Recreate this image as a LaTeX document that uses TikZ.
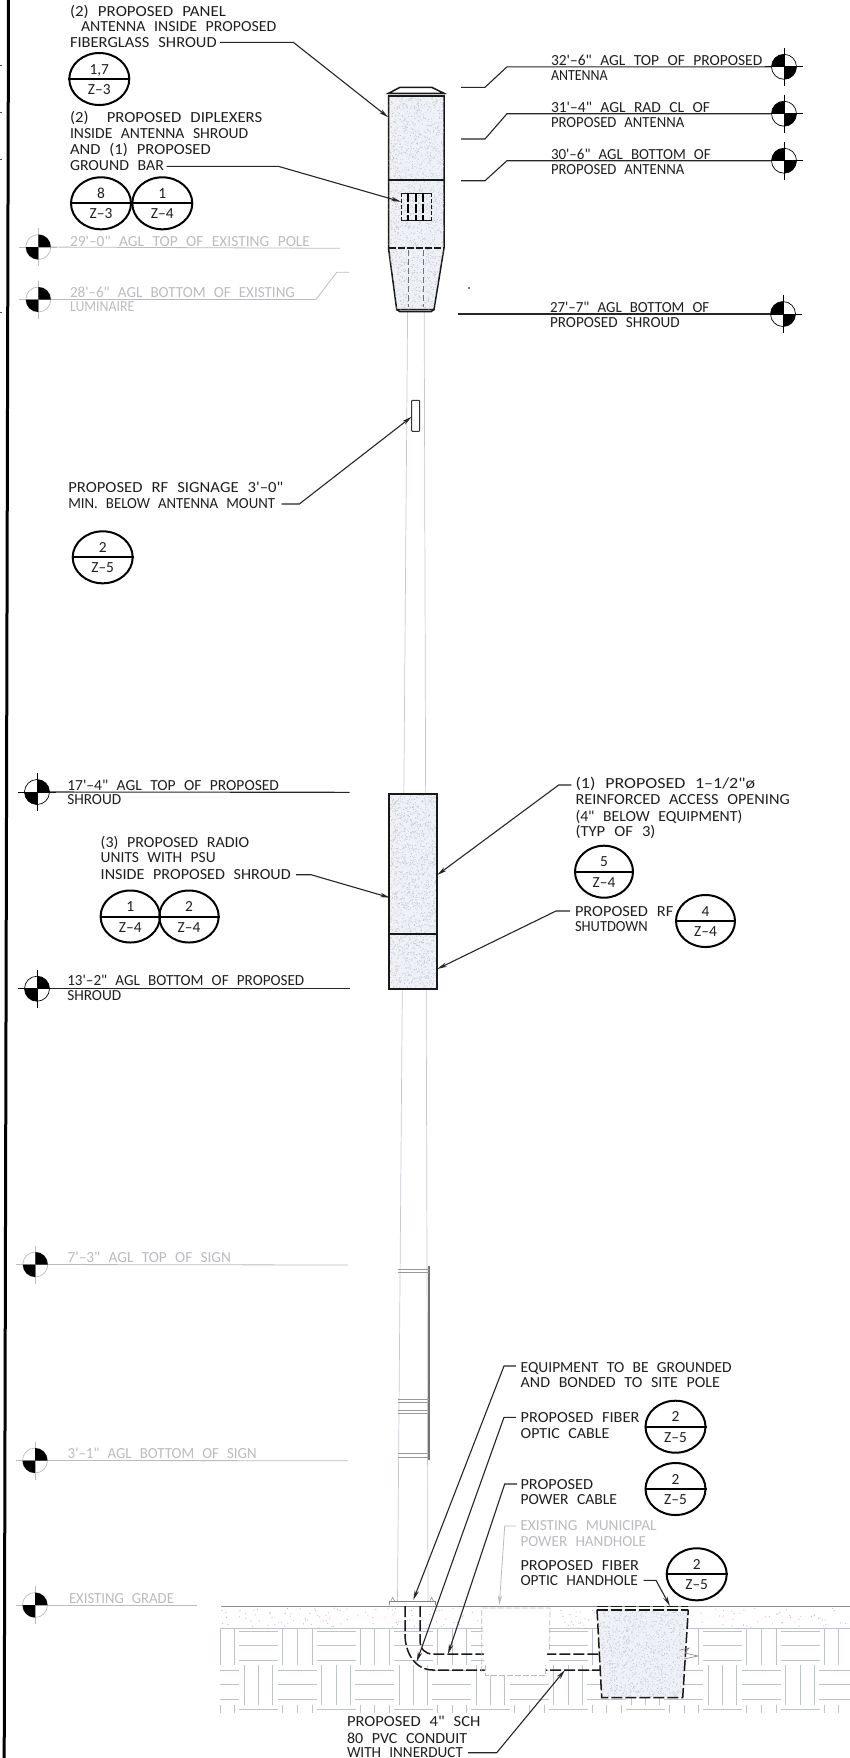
\documentclass[tikz,border=0pt]{standalone}
\usepackage{fontspec}
\usepackage{graphicx}
\setmainfont[WordSpace=2.4,Ligatures=TeXOff]{Carlito}
\usetikzlibrary{arrows.meta,shapes.geometric}
\definecolor{exist}{HTML}{BABCC0}
\definecolor{poleln}{HTML}{C4C9D2}
\definecolor{brick}{HTML}{BFC3CC}
\definecolor{shroud}{HTML}{EEF1F5}
\definecolor{stip}{HTML}{C2C6D0}
\newlength{\pxu}\setlength{\pxu}{.5pt}
\newcommand{\lblfont}{\fontsize{7.7}{7.8}\selectfont\lineskiplimit=-10pt }
\newcommand{\Ln}[2]{\resizebox{#1\pxu}{\height}{#2}}
\tikzset{
  lbl/.style={anchor=north west,inner sep=0pt,outer sep=0pt,align=left,font=\lblfont,text=black!88},
  ctr/.style={anchor=base,inner sep=0pt,font=\lblfont,text=black!88},
  lead/.style={line width=.55pt,black!85,-{Stealth[length=5pt,width=2.2pt]}},
  lvl/.style={line width=.55pt,black!85},
  elvl/.style={line width=.4pt,exist},
  balloon/.style={draw=black,line width=1pt,ellipse,inner sep=0pt,minimum height=26pt},
  mrk/.style={circle,draw,line width=.35pt,inner sep=0pt,minimum size=12.5pt},
  pole/.style={line width=.35pt,poleln},
  heavy/.style={line width=.75pt,black!90},
  hdash/.style={line width=.75pt,black!90,dash pattern=on 5.5pt off 1.5pt},
  shr/.style={fill=shroud,draw=black!90,line width=.75pt},
  brk/.style={line width=.3pt,brick},
}
\newcommand{\Tx}[5][]{\node[lbl,#1] (#2) at (#3,#4-13) {\rule{0pt}{6.5pt}#5};}
\newcommand{\Bal}[6]{%
  \node[balloon,minimum width=#4pt] (#1) at (#2,#3) {};
  \draw[line width=1pt] (#1.west) -- (#1.east);
  \node[ctr] (#1-t) at (#2,#3-5) {#5};
  \node[ctr] (#1-b) at (#2,#3+15.5) {#6};}
\newcommand{\Mrk}[5]{%
  \node[mrk,draw=#4] (#1) at (#2,#3) {};
  \draw[line width=.4pt,#4] (#2,#3-19) -- (#2,#3+19) (#2-19,#3) -- (#2+19,#3);
  \fill[black] (#2,#3) -- ++(#5:6.25pt) arc[start angle=#5,delta angle=90,radius=6.25pt] -- cycle;
  \fill[black] (#2,#3) -- ++(#5+180:6.25pt) arc[start angle=#5+180,delta angle=90,radius=6.25pt] -- cycle;}
\newcommand{\Ld}[5][]{%
  \coordinate (#2-a) at (#3); \coordinate (#2-b) at (#4); \coordinate (#2-c) at (#5);
  \draw[lead,#1] (#2-a) -- (#2-b) -- (#2-c);}
\newcommand{\Stip}[5]{\foreach \i in {1,...,#5}{\fill[stip] ({#1+#3*rnd},{#2+#4*rnd}) circle (.24pt);}}
\begin{document}
\begin{tikzpicture}[x=.5pt,y=-.5pt]
\useasboundingbox (0,0) rectangle (850,1758);
\fill[white] (0,0) rectangle (850,1758);
\pgfmathsetseed{7}
\coordinate (bt) at (8.5,0); \coordinate (bb) at (4.2,1758);
\draw[line width=1.5pt,black] (bt) -- (bb);
\draw[line width=.4pt,black!70] (0,65) -- (1.5,65) (0,112) -- (1.5,112) (0,159) -- (1.5,159) (0,312) -- (1.5,312);
% pavement
\begin{scope}
\clip (220,1627) rectangle (850,1714);
\foreach \k in {-1,...,7}{
  \pgfmathsetmacro{\b}{282.7+77.3*\k}
  \pgfmathsetmacro{\c}{244.3+77.3*\k}
  \foreach \d in {0,14.7,29.3}{
    \draw[brk] ({\b+\d},1628) -- ({\b+\d},1665);
    \draw[brk] ({\b+\d},1705) -- ({\b+\d},1713);}
  \foreach \e in {1631.7,1645.7,1660,1709.3}{
    \draw[brk] ({\b+34},\e) -- ({\b+73},\e);}
  \foreach \d in {0,14.4,28.4}{
    \draw[brk] ({\c+\d},1665) -- ({\c+\d},1705);}
  \foreach \e in {1670,1684.7,1699.3}{
    \draw[brk] ({\c+33.4},\e) -- ({\c+72.4},\e);}
}
\draw[brk] (220,1628) -- (850,1628);
\draw[brk] (220.7,1628) -- (220.7,1665) (220.7,1705) -- (220.7,1713);
\end{scope}
\foreach \i in {1,...,220}{\fill[exist] ({222+628*rnd},{1608+19*rnd}) circle (.3pt);}
\coordinate (ga) at (221,1606); \coordinate (gb) at (850,1606);
\draw[line width=.45pt,black!45] (ga) -- (gb);
% pole
\coordinate (pl1) at (407.6,312); \coordinate (pl2) at (397.5,1602);
\coordinate (pr1) at (424.2,312); \coordinate (pr2) at (428,1602);
\draw[pole] (pl1) -- (pl2); \draw[pole] (pr1) -- (pr2);
\draw[line width=.7pt,black!55] (429,1266) -- (429,1460);
\foreach \y in {1269.3,1272.7,1399.3,1402.7,1410,1413.3,1453.3,1457.3}{\draw[line width=.35pt,black!40] (398,\y) -- (429,\y);}
\draw[line width=.4pt,black!50] (389.3,1605) -- (389.3,1601.7) -- (435,1601.7) -- (435,1605);
\draw[line width=.3pt,black!40] (390.5,1601.7) -- (392.7,1597.5) -- (395,1601.7) (429.5,1601.7) -- (431.7,1597.5) -- (434,1601.7);
% conduits
\draw[hdash] (420,1606) -- (420,1640) .. controls (420,1649) and (425,1654) .. (433,1654) -- (600,1654);
\draw[hdash] (405,1606) -- (405,1634) .. controls (405,1654) and (416,1670) .. (433,1670) -- (600,1670);
% municipal handhole
\path[fill=white] (481.7,1608) -- (550,1608) -- (545.7,1675) -- (485,1675) -- cycle;
\draw[line width=.35pt,exist,dash pattern=on 3pt off 1pt] (481.7,1672) -- (481.7,1608) -- (550,1608) -- (549.5,1650);
\draw[line width=.35pt,exist,dash pattern=on 3pt off 1pt] (485,1665) -- (485,1675) -- (545.7,1675) -- (545.7,1665);
% fibre handhole
\fill[shroud] (597,1609) -- (688,1609) -- (682.7,1697.7) -- (601.7,1697.7) -- cycle;
\begin{scope}
\clip (597,1609) -- (688,1609) -- (682.7,1697.7) -- (601.7,1697.7) -- cycle;
\Stip{597}{1609}{91}{89}{1300}
\end{scope}
\draw[hdash] (597,1609.5) -- (601.7,1697.7) -- (682.7,1697.7) -- (688.3,1609.5);
\draw[hdash] (596.7,1606.6) -- (688.3,1606.6);
\draw[hdash] (596.7,1610) -- (688.3,1610);
\draw[line width=.3pt,black!50] (680,1650) -- (689,1648) -- (685,1653) -- (698,1656) -- (684,1659);
% antenna shroud
\path[shr] (388.5,95.5) -- (444,95.5) -- (444,248) -- (434,309.5) -- (396.7,309.5) -- (388.5,248) -- cycle;
\begin{scope}
\clip (388.5,95.5) -- (444,95.5) -- (444,248) -- (434,309.5) -- (396.7,309.5) -- (388.5,248) -- cycle;
\Stip{388}{95}{56}{215}{2000}
\end{scope}
\draw[heavy] (388.5,93.3) -- (400,87.3) -- (431.7,87.3) -- (444,93.3) -- cycle;
\draw[heavy] (388.5,95.8) -- (444,95.8);
\draw[heavy] (388.5,180) -- (444,180);
\draw[heavy,dash pattern=on 3.5pt off 1pt] (388.5,248.2) -- (444,248.2);
\draw[heavy] (396.7,309.5) -- (400,311.7) -- (431,311.7) -- (434,309.5);
\draw[line width=.35pt,black!55,dash pattern=on 3pt off 1.5pt] (408.3,250) -- (408.3,307) (423.3,250) -- (423.3,307);
\draw[heavy] (401.7,193.3) -- (431,193.3) (401.7,220.7) -- (431,220.7);
\foreach \x in {401.7,431}{\draw[line width=.5pt,black!90,dash pattern=on 2pt off 1pt] (\x,193.3) -- (\x,220.7);}
\foreach \x in {407.7,415.7,423.3}{\draw[line width=.9pt,black,dash pattern=on 4.5pt off 1pt] (\x,193.3) -- (\x,220.7);}
\node[draw=black!80,fill=white,line width=.5pt,inner sep=0pt,minimum width=4pt,minimum height=15.5pt,rounded corners=.4pt] (rfsign) at (415.7,415.8) {};
% equipment shroud
\path[shr] (389,794) rectangle (437,989);
\Stip{389.5}{795}{47}{193}{1800}
\draw[heavy] (389,794) rectangle (437,989);
\draw[heavy] (389,934) -- (437,934);
% level markers, left
\Mrk{m29}{38.3}{247}{exist}{0}
\Mrk{m28}{38.3}{299.5}{exist}{0}
\Mrk{m17}{37}{792}{black}{0}
\Mrk{m13}{37}{988.7}{black}{0}
\Mrk{m7}{35.3}{1264.5}{exist}{0}
\Mrk{m3}{35}{1460.5}{exist}{0}
\Mrk{mg}{35}{1605}{exist}{0}
\coordinate (e29) at (340,248.3); \draw[elvl] (m29) -- (e29);
\coordinate (e28a) at (316,299.5); \coordinate (e28b) at (336.7,272.3); \coordinate (e28c) at (349,272.3);
\draw[elvl] (m28) -- (e28a) -- (e28b) -- (e28c);
\coordinate (e17) at (349.5,792.3); \draw[lvl] (m17) -- (e17);
\coordinate (e13) at (349.5,988.7); \draw[lvl] (m13) -- (e13);
\coordinate (e7) at (348,1265); \draw[elvl] (m7) -- (e7);
\coordinate (e3) at (348,1460.7); \draw[elvl] (m3) -- (e3);
\coordinate (eg) at (196.7,1605); \draw[elvl] (mg) -- (eg);
% level markers, right
\Mrk{r32}{784}{66.8}{black}{90}
\Mrk{r31}{784}{113.7}{black}{90}
\Mrk{r30}{784}{160.7}{black}{90}
\Mrk{r27}{783}{314}{black}{90}
\coordinate (q32a) at (507,66.8); \coordinate (q32b) at (485,87.3); \coordinate (q32c) at (461,87.3);
\draw[lvl] (r32) -- (q32a) -- (q32b) -- (q32c);
\coordinate (q31a) at (507,113.7); \coordinate (q31b) at (485,139); \coordinate (q31c) at (461,139);
\draw[lvl] (r31) -- (q31a) -- (q31b) -- (q31c);
\coordinate (q30a) at (507,160.7); \coordinate (q30b) at (485,180.7); \coordinate (q30c) at (461,180.7);
\draw[lvl] (r30) -- (q30a) -- (q30b) -- (q30c);
\coordinate (q27) at (458,314); \draw[lvl] (r27) -- (q27);
% texts
\Tx{t1}{70}{16}{\Ln{156}{(2) PROPOSED PANEL}\\\hspace*{5.5pt}\Ln{195.3}{ANTENNA INSIDE PROPOSED}\\\Ln{146.7}{FIBERGLASS SHROUD}}
\Tx{t2}{70}{122.7}{\Ln{192.3}{(2)\ \ PROPOSED DIPLEXERS}\\\Ln{178.3}{INSIDE ANTENNA SHROUD}\\[.3pt]\Ln{140.7}{AND (1) PROPOSED}\\\Ln{94}{GROUND BAR}}
\Tx[text=exist]{t29}{70}{246}{\Ln{240}{29'–0" AGL TOP OF EXISTING POLE}}
\Tx[text=exist]{t28}{70}{297.7}{\Ln{225}{28'–6" AGL BOTTOM OF EXISTING}\\[-.7pt]\Ln{64.3}{LUMINAIRE}}
\Tx{t32}{551}{65.5}{\Ln{211.3}{32'–6" AGL TOP OF PROPOSED}\\[-.4pt]\Ln{56.7}{ANTENNA}}
\Tx{t31}{551}{112.7}{\Ln{159}{31'–4" AGL RAD CL OF}\\[-.4pt]\Ln{133.3}{PROPOSED ANTENNA}}
\Tx{t30}{551}{159.3}{\Ln{159.7}{30'–6" AGL BOTTOM OF}\\[-.4pt]\Ln{133.3}{PROPOSED ANTENNA}}
\Tx{t27}{550}{312.7}{\Ln{159.3}{27'–7" AGL BOTTOM OF}\\[-.4pt]\Ln{129.7}{PROPOSED SHROUD}}
\Tx{tsign}{68.3}{492.7}{\Ln{215}{PROPOSED RF SIGNAGE 3'–0"}\\\Ln{206.7}{MIN. BELOW ANTENNA MOUNT}}
\Tx{t17}{67.3}{790}{\Ln{211.7}{17'–4" AGL TOP OF PROPOSED}\\[-.4pt]\Ln{54}{SHROUD}}
\Tx{t13}{67.3}{985.7}{\Ln{237}{13'–2" AGL BOTTOM OF PROPOSED}\\[-.2pt]\Ln{54}{SHROUD}}
\Tx{t3r}{100.7}{847.3}{\Ln{148.6}{(3) PROPOSED RADIO}\\\Ln{115}{UNITS WITH PSU}\\[.3pt]\Ln{190}{INSIDE PROPOSED SHROUD}}
\Tx{t1p}{575.5}{788.3}{\Ln{179.6}{(1) PROPOSED 1–1/2"ø}\\[.4pt]\Ln{214.3}{REINFORCED ACCESS OPENING}\\[.4pt]\Ln{166.8}{(4" BELOW EQUIPMENT)}\\\Ln{80}{(TYP OF 3)}}
\Tx{trf}{575}{916}{\Ln{98.3}{PROPOSED RF}\\\Ln{72.7}{SHUTDOWN}}
\Tx[text=exist]{t7}{67.7}{1262.7}{\Ln{163.3}{7'–3" AGL TOP OF SIGN}}
\Tx[text=exist]{t3}{67.7}{1458.3}{\Ln{189}{3'–1" AGL BOTTOM OF SIGN}}
\Tx[text=exist]{tg}{69}{1603.3}{\Ln{105}{EXISTING GRADE}}
\Tx{teq}{520.7}{1372.3}{\Ln{211}{EQUIPMENT TO BE GROUNDED}\\\Ln{199.3}{AND BONDED TO SITE POLE}}
\Tx{tfo}{520.7}{1422.7}{\Ln{118.7}{PROPOSED FIBER}\\\Ln{88.7}{OPTIC CABLE}}
\Tx{tpw}{520.5}{1489.3}{\Ln{72.6}{PROPOSED}\\\Ln{96.6}{POWER CABLE}}
\Tx[text=exist]{tmu}{520.5}{1530.7}{\Ln{136}{EXISTING MUNICIPAL}\\\Ln{125.6}{POWER HANDHOLE}}
\Tx{tfh}{520.5}{1570}{\Ln{118.6}{PROPOSED FIBER}\\\Ln{117.3}{OPTIC HANDHOLE}}
\Tx{tcd}{347}{1726.7}{\Ln{133.5}{PROPOSED 4" SCH}\\[.4pt]\Ln{120.2}{80 PVC CONDUIT}\\[-.7pt]\Ln{116}{WITH INNERDUCT}}
% balloons
\Bal{b1}{99.3}{79}{30}{1,7}{Z–3}
\Bal{b2}{101}{203.3}{30}{8}{Z–3}
\Bal{b3}{162.3}{203.3}{30}{1}{Z–4}
\Bal{b4}{102.7}{557.3}{30}{2}{Z–5}
\Bal{b5}{130.3}{916.5}{29.7}{1}{Z–4}
\Bal{b6}{189}{916.5}{29.7}{2}{Z–4}
\Bal{b7}{604}{871.7}{29}{5}{Z–4}
\Bal{b8}{705.5}{921}{29.5}{4}{Z–4}
\Bal{b9}{675.5}{1426.7}{30}{2}{Z–5}
\Bal{b10}{675.5}{1489}{30}{2}{Z–5}
\Bal{b11}{696.7}{1574.3}{30}{2}{Z–5}
% leaders
\Ld{l1}{220,42.3}{293.3,42.3}{388.3,117.3}
\Ld{l2}{166.7,166.3}{278.3,166.3}{401,201.7}
\Ld{l3}{281.7,504}{299.3,504}{411.7,416.7}
\Ld{l4}{296,874.7}{311,874.7}{390,897.7}
\Ld{l5}{571.4,785}{558.7,785}{437.2,875}
\Ld{l6}{570,911}{556,911}{437.2,969}
\Ld{l7}{516,1366}{504,1366}{413.3,1600}
\Ld{l8}{516,1417.3}{504,1417.3}{416.7,1661.7}
\Ld{l9}{517,1484}{504.7,1484}{448,1654}
\Ld[exist,line width=.4pt]{l10}{516,1526}{504.7,1526}{499.3,1605}
\Ld{l11}{643.6,1580.3}{656,1580.3}{670,1606}
\Ld{l12}{468,1752.7}{496.7,1752.7}{565,1670}
\fill[black!70] (469,288) circle (.6pt);
\end{tikzpicture}
\end{document}
